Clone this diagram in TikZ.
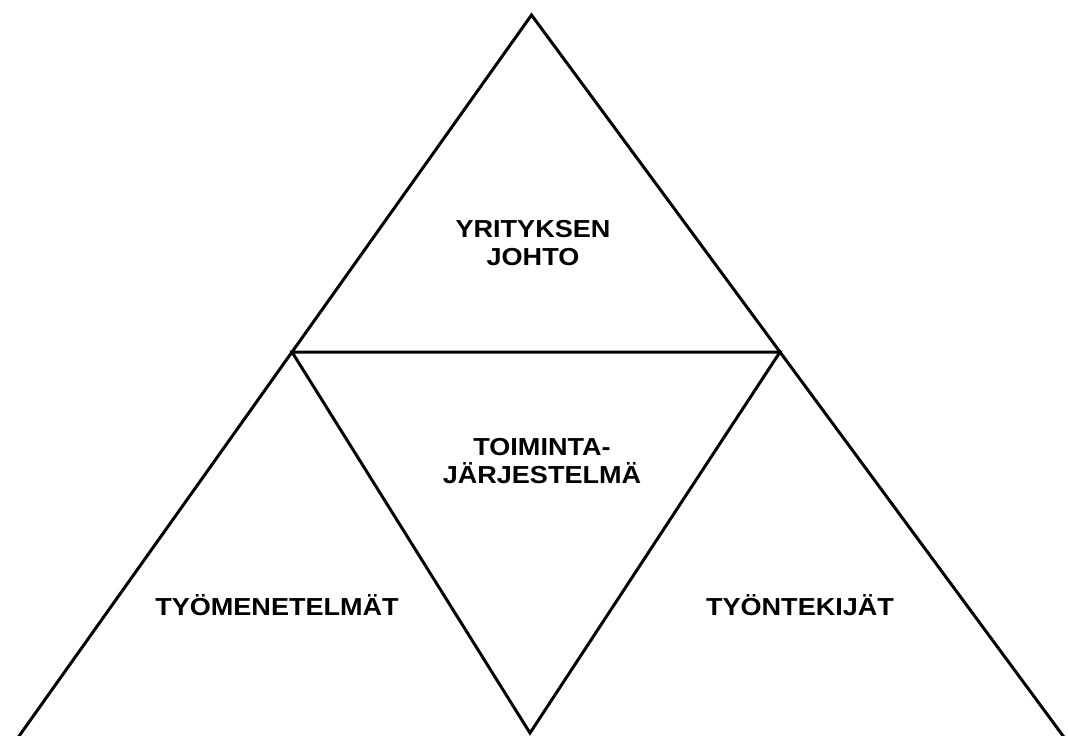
\documentclass[tikz,border=0pt]{standalone}
\usepackage{fontspec}
\setmainfont{Liberation Sans}[FakeStretch=1.1]
\usepackage{tikz}
\usetikzlibrary{calc}

\begin{document}
\begin{tikzpicture}[
  x=0.02cm, y=-0.02cm,
  font=\bfseries\fontsize{14}{15.9}\selectfont,
  label/.style={
    align=center,
    inner sep=0pt
  },
  edge/.style={line width=1.7pt, line join=miter}
]
\useasboundingbox (0,0) rectangle (1068,735);
\clip (0,0) rectangle (1068,735);
\coordinate (apex) at (531.5,15);
\coordinate (midleft) at (292,352);
\coordinate (midright) at (780,352);
\coordinate (bottom) at (530,733);
\coordinate (baseleft) at ($(apex)!2.2!(midleft)$);
\coordinate (baseright) at ($(apex)!2.2!(midright)$);
\node[label] (johto) at (533,243) {YRITYKSEN\\JOHTO};
\node[label] (toiminta) at (542,461) {TOIMINTA-\\JÄRJESTELMÄ};
\node[label] (menetelmat) at (277,605) {TYÖMENETELMÄT};
\node[label] (tekijat) at (800,605) {TYÖNTEKIJÄT};
\draw[edge] (midleft) -- (baseleft);
\draw[edge] (midleft) -- (apex) -- (midright);
\draw[edge] (midright) -- (baseright);
\draw[edge] (midleft) -- (midright) -- (bottom) -- cycle;
\end{tikzpicture}
\end{document}
